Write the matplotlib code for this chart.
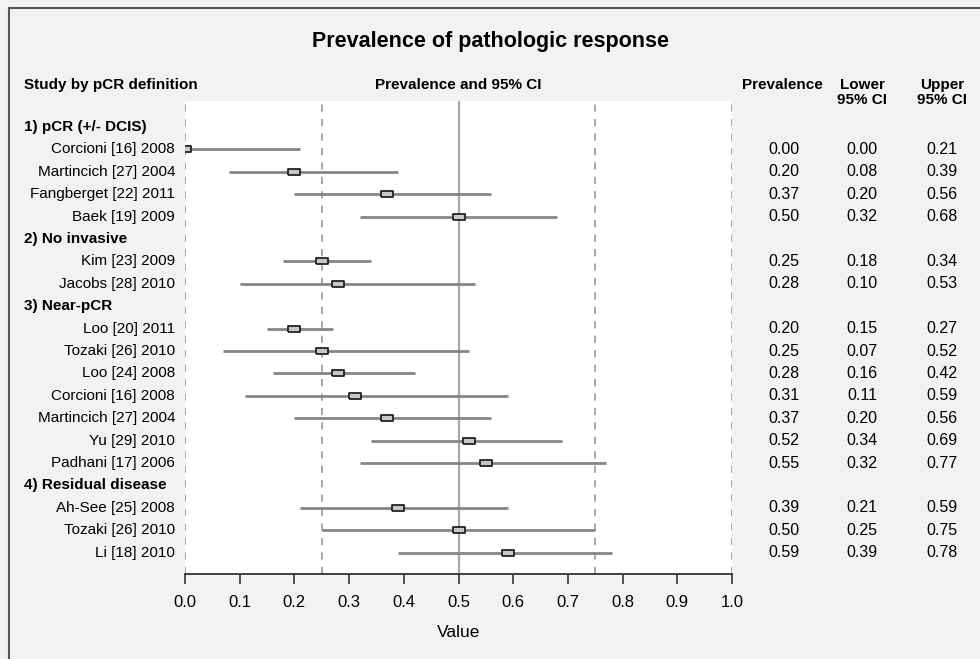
import matplotlib
matplotlib.use("Agg")
import matplotlib.pyplot as plt
from matplotlib.transforms import blended_transform_factory
from matplotlib.lines import Line2D

plt.rcParams['font.family'] = ['Liberation Sans', 'DejaVu Sans']

# data
group_names = ["1) pCR (+/- DCIS)", "2) No invasive", "3) Near-pCR", "4) Residual disease"]
study = ["Corcioni [16] 2008", "Martincich [27] 2004", "Fangberget [22] 2011", "Baek [19] 2009",
         "Kim [23] 2009", "Jacobs [28] 2010",
         "Loo [20] 2011", "Tozaki [26] 2010", "Loo [24] 2008", "Corcioni [16] 2008",
         "Martincich [27] 2004", "Yu [29] 2010", "Padhani [17] 2006",
         "Ah-See [25] 2008", "Tozaki [26] 2010", "Li [18] 2010"]
group = [0, 0, 0, 0, 1, 1, 2, 2, 2, 2, 2, 2, 2, 3, 3, 3]
prev = [0.00, 0.20, 0.37, 0.50, 0.25, 0.28, 0.20, 0.25, 0.28, 0.31, 0.37, 0.52, 0.55, 0.39, 0.50, 0.59]
lower = [0.00, 0.08, 0.20, 0.32, 0.18, 0.10, 0.15, 0.07, 0.16, 0.11, 0.20, 0.34, 0.32, 0.21, 0.25, 0.39]
upper = [0.21, 0.39, 0.56, 0.68, 0.34, 0.53, 0.27, 0.52, 0.42, 0.59, 0.56, 0.69, 0.77, 0.59, 0.75, 0.78]
ref_dashed = [0.0, 0.25, 0.75, 1.0]
ref_solid = 0.5

W, H = 980, 659
fig = plt.figure(figsize=(W / 100, H / 100), dpi=100)
fig.patch.set_facecolor('#f2f2f2')

# outer frame (top and left only visible in reference)
fig.add_artist(Line2D([9 / W, 9 / W], [0, 1 - 8 / H], transform=fig.transFigure, color='#555555', lw=1.5))
fig.add_artist(Line2D([9 / W, 1], [1 - 8 / H, 1 - 8 / H], transform=fig.transFigure, color='#555555', lw=1.5))

ax = fig.add_axes([185 / W, 1 - 574 / H, (732 - 185) / W, (574 - 101) / H])
ax.set_facecolor('white')

# row positions
header_rows = []
study_rows = []
r = 0
prev_g = -1
for g in group:
    if g != prev_g:
        header_rows.append(r)
        r += 1
        prev_g = g
    study_rows.append(r)
    r += 1

row_h = 22.4
y_top = (101 - 127) / row_h
y_bot = (574 - 127) / row_h
ax.set_ylim(y_bot, y_top)
ax.set_xlim(0, 1)

for x in ref_dashed:
    ax.axvline(x, color='#a0a0a0', lw=1.3, ls=(0, (4, 4)), zorder=1)
ax.axvline(ref_solid, color='#a8a8a8', lw=1.6, zorder=1)

box = [(-1, -0.55), (1, -0.55), (1, 0.55), (-1, 0.55), (-1, -0.55)]
ax.hlines(study_rows, lower, upper, color='#858585', lw=2.0, zorder=2)
ax.plot(prev, study_rows, ls='none', marker=box, markersize=8,
        markerfacecolor='#c8c8c8', markeredgecolor='#222222', markeredgewidth=1.3, zorder=3)

for s in ['top', 'left', 'right']:
    ax.spines[s].set_visible(False)
ax.spines['bottom'].set_color('#333333')
ax.spines['bottom'].set_linewidth(1.3)
ax.set_yticks([])
ax.set_xticks([i / 10 for i in range(11)])
ax.set_xticklabels([f"{i / 10:.1f}" for i in range(11)], fontsize=12)
ax.tick_params(axis='x', direction='out', length=7, width=1.2, color='#333333', pad=8)
ax.set_xlabel("Value", fontsize=12.5, labelpad=11)

tr = blended_transform_factory(fig.transFigure, ax.transData)

for name, rr in zip(group_names, header_rows):
    ax.text(24 / W, rr, name, transform=tr, ha='left', va='center', fontsize=11, fontweight='bold', clip_on=False)
for name, rr, p, lo, hi in zip(study, study_rows, prev, lower, upper):
    ax.text(175 / W, rr, name, transform=tr, ha='right', va='center', fontsize=11, clip_on=False)
    ax.text(784 / W, rr, f"{p:.2f}", transform=tr, ha='center', va='center', fontsize=11.5, clip_on=False)
    ax.text(862 / W, rr, f"{lo:.2f}", transform=tr, ha='center', va='center', fontsize=11.5, clip_on=False)
    ax.text(942 / W, rr, f"{hi:.2f}", transform=tr, ha='center', va='center', fontsize=11.5, clip_on=False)

# headers
fig.text(490 / W, 1 - 42 / H, "Prevalence of pathologic response", ha='center', va='center',
         fontsize=15.5, fontweight='bold')
hy = 1 - 78 / H
fig.text(24 / W, hy, "Study by pCR definition", ha='left', va='top', fontsize=11, fontweight='bold')
fig.text(458 / W, hy, "Prevalence and 95% CI", ha='center', va='top', fontsize=11, fontweight='bold')
fig.text(782 / W, hy, "Prevalence", ha='center', va='top', fontsize=11, fontweight='bold')
fig.text(862 / W, hy, "Lower\n95% CI", ha='center', va='top', fontsize=11, fontweight='bold', linespacing=1.1)
fig.text(942 / W, hy, "Upper\n95% CI", ha='center', va='top', fontsize=11, fontweight='bold', linespacing=1.1)

fig.savefig("out.png", dpi=100, facecolor=fig.get_facecolor())
